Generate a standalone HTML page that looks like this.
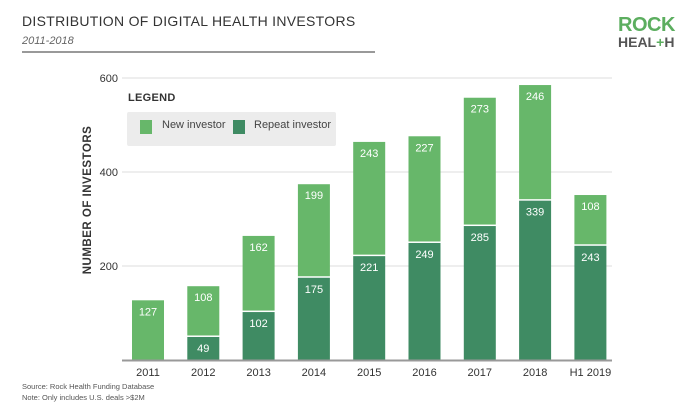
<!DOCTYPE html>
<html><head><meta charset="utf-8"><style>
body{margin:0;background:#fff;font-family:"Liberation Sans",sans-serif;}
#wrap{position:relative;width:700px;height:420px;overflow:hidden;}
.t{position:absolute;white-space:nowrap;}
</style></head><body>
<div id="wrap">
<div class="t" style="left:22px;top:13px;font-size:14px;color:#333;letter-spacing:0.3px">DISTRIBUTION OF DIGITAL HEALTH INVESTORS</div>
<div class="t" style="left:22px;top:35px;font-size:11px;color:#666;font-style:italic">2011-2018</div>
<div style="position:absolute;left:22px;top:51px;width:353px;height:2px;background:#999"></div>
<div class="t" style="left:618px;top:14px;font-size:20px;font-weight:bold;color:#5cae5f;letter-spacing:-0.5px">ROCK</div>
<div class="t" style="left:618px;top:34px;font-size:14px;font-weight:bold;color:#555;letter-spacing:0px">HEAL<span style="color:#5cae5f">+</span>H</div>
<svg id="chart" width="700" height="420" style="position:absolute;left:0;top:0"></svg>
<div class="t" style="left:128px;top:92px;font-size:11px;color:#333;font-weight:bold;letter-spacing:0.3px">LEGEND</div>
<div style="position:absolute;left:127px;top:112px;width:209px;height:34px;background:#ececec;border-radius:2px"></div>
<div style="position:absolute;left:140px;top:120px;width:12px;height:14px;background:#67b76a"></div>
<div class="t" style="left:162px;top:119px;font-size:11px;color:#444">New investor</div>
<div style="position:absolute;left:233px;top:120px;width:12px;height:14px;background:#3f8b63"></div>
<div class="t" style="left:254px;top:119px;font-size:11px;color:#444">Repeat investor</div>
<div class="t" style="left:22px;top:381px;font-size:7.5px;color:#555;line-height:11px">Source: Rock Health Funding Database<br>Note: Only includes U.S. deals &gt;$2M</div>
</div>
<script>
const categories=["2011","2012","2013","2014","2015","2016","2017","2018","H1 2019"];
const repeatValues=[0,49,102,175,221,249,285,339,243];
const newValues=[127,108,162,199,243,227,273,246,108];
const yTicks=[200,400,600];
const NS="http://www.w3.org/2000/svg";
const svg=document.getElementById('chart');
const y0=360,k=0.47,x0=148,step=55.3,bw=32;
const y=v=>y0-v*k;
const x=i=>x0+i*step;
function mk(t,a){const e=document.createElementNS(NS,t);for(const n in a)e.setAttribute(n,a[n]);svg.appendChild(e);return e;}
yTicks.forEach(v=>{
 const g=mk('line',{x1:122,x2:612,y1:y(v),y2:y(v),stroke:'#ddd','stroke-width':1});
 
 
 const t=mk('text',{x:118,y:y(v)+4,'text-anchor':'end','font-size':11,fill:'#333','font-family':'Liberation Sans, sans-serif'});
 t.textContent=v;
 
 
});
const yt=mk('text',{x:0,y:0,transform:'translate(91,200) rotate(-90)','text-anchor':'middle','font-size':11.5,'font-weight':'bold',fill:'#333','letter-spacing':'0.5','font-family':'Liberation Sans, sans-serif'});
yt.textContent='NUMBER OF INVESTORS';


categories.forEach((c,i)=>{
 const cx=x(i),r=repeatValues[i],n=newValues[i];
 if(r>0){
  const b=mk('rect',{x:cx-bw/2,y:y(r),width:bw,height:r*k,fill:'#3f8b63'});
  
  
  const l=mk('text',{x:cx,y:y(r)+15,'text-anchor':'middle','font-size':11,fill:'#fff','font-family':'Liberation Sans, sans-serif'});
  l.textContent=r;
  
  
 }
 const top=y(r+n);
 const b2=mk('rect',{x:cx-bw/2,y:top,width:bw,height:n*k-(r>0?1.5:0),fill:'#67b76a'});
 
 
 const l2=mk('text',{x:cx,y:top+15,'text-anchor':'middle','font-size':11,fill:'#fff','font-family':'Liberation Sans, sans-serif'});
 l2.textContent=n;
 
 
 const xl=mk('text',{x:cx,y:y0+16,'text-anchor':'middle','font-size':11,fill:'#333','font-family':'Liberation Sans, sans-serif'});
 xl.textContent=c;
 
 
});
const base=mk('line',{x1:122,x2:612,y1:y0+0.5,y2:y0+0.5,stroke:'#999','stroke-width':2});


</script>
</body></html>
